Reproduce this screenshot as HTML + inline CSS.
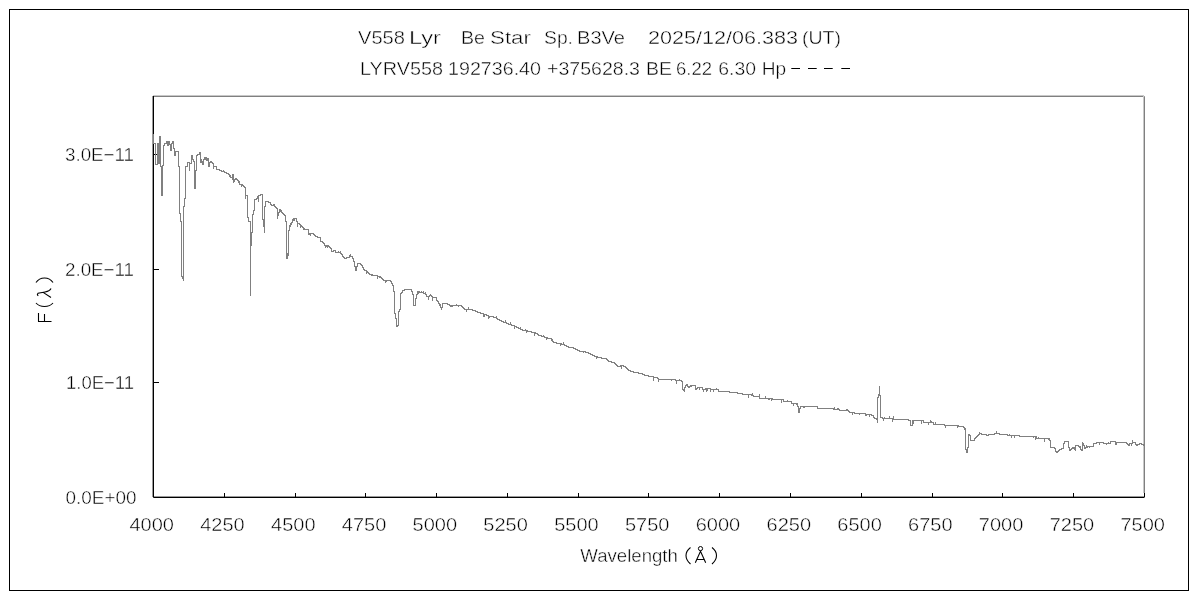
<!DOCTYPE html>
<html><head><meta charset="utf-8"><style>
html,body{margin:0;padding:0;background:#fff;}
body{width:1200px;height:600px;overflow:hidden;}
svg{display:block;will-change:transform;}
text{font-family:"Liberation Sans", sans-serif;fill:#000;stroke:#fff;stroke-width:0.45px;paint-order:fill stroke;}
</style></head><body>
<svg width="1200" height="600" viewBox="0 0 1200 600">
<rect width="1200" height="600" fill="#fff"/>
<rect x="9.5" y="9.5" width="1179" height="581" fill="none" stroke="#000" stroke-width="1"/>
<path d="M153 96.5 H1144.5 V497" fill="none" stroke="#808080" stroke-width="1"/>
<path d="M153 95.5 H1144" fill="none" stroke="#c8c8c8" stroke-width="1"/>
<path d="M1143.5 96 V493" fill="none" stroke="#c8c8c8" stroke-width="1"/>
<path d="M152.5 96 V497" fill="none" stroke="#9a9a9a" stroke-width="1"/>
<path d="M153 496.5 H1144" fill="none" stroke="#9a9a9a" stroke-width="1"/>
<path d="M153.5 96 V497.5 H1144.5" fill="none" stroke="#000" stroke-width="1"/>
<path d="M153 154.5 H159" stroke="#000" stroke-width="1"/>
<path d="M153 269.5 H159" stroke="#000" stroke-width="1"/>
<path d="M153 382.5 H159" stroke="#000" stroke-width="1"/>
<path d="M224.5 493 V497" stroke="#000" stroke-width="1"/>
<path d="M295.5 493 V497" stroke="#000" stroke-width="1"/>
<path d="M365.5 493 V497" stroke="#000" stroke-width="1"/>
<path d="M436.5 493 V497" stroke="#000" stroke-width="1"/>
<path d="M507.5 493 V497" stroke="#000" stroke-width="1"/>
<path d="M578.5 493 V497" stroke="#000" stroke-width="1"/>
<path d="M648.5 493 V497" stroke="#000" stroke-width="1"/>
<path d="M719.5 493 V497" stroke="#000" stroke-width="1"/>
<path d="M790.5 493 V497" stroke="#000" stroke-width="1"/>
<path d="M861.5 493 V497" stroke="#000" stroke-width="1"/>
<path d="M932.5 493 V497" stroke="#000" stroke-width="1"/>
<path d="M1002.5 493 V497" stroke="#000" stroke-width="1"/>
<path d="M1073.5 493 V497" stroke="#000" stroke-width="1"/>
<path d="M1144.5 493 V497" stroke="#000" stroke-width="1"/>
<path d="M153.5 133.5V143.5H155.5V146.5V164.5H157.5V143.5H158.5V163.5H159.5V139.5V136.5H160.5V166.5H161.5V176.5V195.5H162.5V173.5V165.5H163.5V145.5H164.5V143.5H166.5V141.5H167.5V145.5H168.5V141.5H169.5V144.5H170.5V150.5H171.5V143.5H172.5V141.5H173.5V148.5H174.5V155.5H175.5V151.5H178.5V166.5H179.5V200.5V213.5H180.5V221.5H181.5V276.5H182.5V278.5H183.5V280.5V206.5H184.5V198.5H185.5V166.5H187.5V162.5H188.5H189.5V170.5V163.5H191.5V155.5H192.5V159.5H193.5V161.5H194.5V177.5V188.5H195.5V170.5H196.5V165.5V155.5H197.5V154.5H199.5V152.5H200.5V159.5H201.5V161.5H202.5V164.5H203.5V159.5H204.5V157.5H206.5V160.5H207.5V158.5H208.5V166.5H209.5V162.5H210.5V161.5H211.5V162.5H212.5V163.5H213.5V164.5V166.5H216.5V169.5H219.5V170.5H221.5V171.5H224.5V172.5H226.5V173.5H228.5V174.5H229.5V176.5H230.5V177.5H232.5V174.5H233.5V181.5H234.5V179.5H235.5V178.5H236.5V179.5H237.5V180.5H238.5V181.5H239.5V184.5H242.5V185.5H243.5V186.5H244.5V187.5H245.5V188.5V195.5H247.5V217.5H248.5V221.5H250.5V223.5V295.5V245.5H251.5V232.5H252.5V214.5H253.5V210.5H254.5V199.5H256.5V198.5H257.5V197.5H258.5V201.5V195.5H260.5V194.5H262.5V195.5V219.5H263.5V226.5H264.5V232.5V206.5H265.5V201.5H268.5V202.5H270.5V204.5H271.5V205.5H273.5V204.5H274.5V206.5H275.5V207.5H276.5V208.5H277.5V215.5H278.5V212.5H279.5V209.5H280.5V210.5H281.5V212.5H282.5V213.5H283.5V214.5H284.5V215.5H285.5V221.5H286.5V224.5V258.5H287.5V255.5H288.5V253.5V230.5H289.5V226.5H290.5V225.5V224.5H291.5V222.5H292.5V219.5H293.5V218.5H296.5V221.5H297.5V223.5H299.5V224.5H300.5V225.5H301.5V226.5H302.5V227.5H303.5V229.5H308.5V234.5H309.5V233.5H313.5V234.5H314.5V235.5H315.5V236.5H317.5V237.5H320.5V238.5V241.5H322.5V242.5H323.5V243.5H324.5V245.5H325.5V246.5H326.5V245.5H328.5V246.5H329.5V247.5H330.5V248.5H331.5V251.5H333.5V250.5H335.5V252.5H340.5V253.5H341.5V254.5H342.5V256.5H343.5V257.5H344.5V258.5H346.5V257.5H349.5V256.5H352.5V258.5H353.5V261.5H354.5V266.5H355.5V270.5H356.5V266.5H357.5V263.5H360.5V264.5H361.5V265.5H362.5V267.5H363.5V269.5H364.5V270.5H366.5V271.5H367.5V272.5H368.5V273.5H369.5V274.5H371.5V275.5H377.5V276.5H380.5V277.5H381.5V278.5H382.5V279.5H383.5V280.5H390.5V281.5H391.5V283.5H392.5V285.5H393.5V286.5V291.5H394.5V313.5H395.5V318.5H396.5V326.5H397.5V325.5H398.5V324.5V311.5H399.5V309.5H400.5V308.5V293.5H401.5V292.5H402.5V290.5H404.5V289.5H411.5V291.5H412.5V294.5H413.5V305.5H415.5V298.5H416.5V294.5H417.5V291.5H419.5V292.5H423.5V293.5H425.5V294.5H426.5V296.5H429.5V295.5H431.5V296.5H432.5V297.5H436.5V300.5H437.5V301.5H438.5V303.5H439.5V304.5H440.5V307.5H442.5V303.5H447.5V304.5H449.5V305.5H450.5V306.5H451.5V305.5H461.5V306.5H462.5V307.5H463.5V308.5H464.5V309.5H472.5V310.5H475.5V311.5H477.5V312.5H480.5V313.5H483.5V314.5H486.5V315.5H488.5V316.5H493.5V317.5H496.5V318.5H497.5V319.5H499.5V320.5H501.5V321.5H503.5V322.5H506.5V323.5H508.5V324.5H511.5V325.5H514.5V326.5H516.5V327.5H518.5V328.5H520.5V329.5H522.5V330.5H527.5V331.5H531.5V332.5H535.5V333.5H537.5V334.5H538.5V335.5H541.5V336.5H544.5V337.5H547.5V338.5H551.5V339.5H552.5V341.5H553.5V342.5H556.5V343.5H561.5V344.5H564.5V345.5H566.5V346.5H568.5V347.5H573.5V348.5H575.5V349.5H577.5V350.5H579.5V351.5H585.5V352.5H588.5V353.5H590.5V354.5H592.5V355.5H594.5V356.5H597.5V357.5H601.5V358.5H606.5V359.5H607.5V360.5H608.5V361.5H611.5V362.5H614.5V363.5H615.5V364.5H616.5V365.5H617.5V366.5H620.5V365.5H623.5V366.5H625.5V367.5H626.5V368.5H627.5V369.5H628.5V370.5H630.5V371.5H633.5V372.5H638.5V373.5H642.5V374.5H644.5V375.5H648.5V376.5H653.5V377.5H657.5V378.5H658.5V379.5H675.5V380.5H681.5V381.5H682.5V382.5V389.5H683.5V390.5H684.5V391.5V387.5H685.5V385.5H686.5V384.5H687.5V386.5H688.5V387.5H689.5V386.5H691.5V385.5H695.5V389.5H696.5V388.5H697.5V387.5H702.5V389.5H703.5V391.5V389.5H705.5V388.5H710.5V389.5H718.5V391.5H729.5V392.5H737.5V393.5H742.5V394.5H752.5V395.5H753.5V396.5H759.5V398.5H772.5V399.5H783.5V401.5H791.5V403.5H797.5V406.5H798.5V410.5V412.5H799.5V408.5H800.5V406.5H803.5V407.5H804.5V406.5H817.5V408.5H833.5V409.5H839.5V410.5H848.5V411.5H849.5V412.5H854.5V413.5H865.5V415.5H866.5V414.5H871.5V415.5H873.5V417.5H874.5V418.5H876.5V419.5H877.5V420.5V397.5H878.5V394.5H879.5V385.5V395.5H880.5V417.5H882.5V418.5H893.5V419.5H908.5V420.5H910.5V425.5H912.5V420.5H923.5V422.5H933.5V424.5H944.5V425.5H958.5V426.5H963.5V427.5H964.5V428.5H965.5V429.5V449.5H966.5V452.5H967.5V447.5H968.5V445.5V434.5H969.5V435.5H970.5V440.5H974.5V438.5H975.5V437.5H976.5V436.5H977.5V435.5H978.5V434.5H979.5V433.5H980.5H981.5V434.5H986.5V435.5H988.5V434.5H994.5V433.5H999.5V434.5H1007.5V435.5H1019.5V436.5H1036.5V438.5H1049.5V440.5H1050.5V447.5H1054.5V448.5H1055.5V451.5H1056.5V452.5H1057.5V451.5H1058.5V450.5H1059.5V449.5H1061.5V448.5H1063.5V443.5H1064.5V441.5H1068.5V447.5H1069.5V450.5H1070.5V449.5H1071.5V448.5H1072.5V447.5H1074.5V449.5H1075.5V450.5V445.5H1078.5V446.5H1080.5V449.5H1081.5V450.5H1082.5V443.5H1083.5V445.5H1084.5V448.5H1085.5V447.5H1087.5V446.5H1093.5V443.5H1096.5V442.5H1103.5V443.5H1110.5V441.5H1115.5V442.5H1126.5V443.5H1127.5V444.5H1128.5V445.5H1129.5V443.5H1132.5V442.5H1135.5V444.5H1136.5V445.5H1137.5V444.5H1139.5V443.5H1141.5V444.5H1143.5V445.5H1144.5" fill="none" stroke="#808080" stroke-width="1" shape-rendering="crispEdges"/>
<path d="M197.5 154.5V153.5M199.5 152.5V151.5M200.5 159.5V162.5M201.5 161.5V162.5M202.5 164.5V163.5M205.5 159.5V156.5M207.5 158.5V160.5M213.5 166.5V168.5M214.5 166.5V165.5M223.5 171.5V169.5M230.5 177.5V174.5M232.5 176.5V179.5M233.5 181.5V182.5M238.5 181.5V182.5M241.5 184.5V186.5M245.5 195.5V198.5M256.5 198.5V199.5M257.5 197.5V195.5M262.5 195.5V198.5M271.5 205.5V203.5M277.5 215.5V218.5M280.5 210.5V211.5M287.5 255.5V252.5M288.5 229.5V231.5M289.5 226.5V224.5M290.5 224.5V222.5M293.5 218.5V220.5M294.5 218.5V220.5M297.5 223.5V226.5M300.5 225.5V227.5M304.5 229.5V227.5M310.5 233.5V235.5M320.5 239.5V241.5M325.5 246.5V247.5M327.5 245.5V247.5M332.5 251.5V250.5M338.5 252.5V250.5M340.5 253.5V250.5M342.5 256.5V254.5M349.5 256.5V254.5M350.5 256.5V253.5M355.5 270.5V268.5M356.5 266.5V265.5M360.5 264.5V262.5M366.5 271.5V273.5M372.5 275.5V273.5M377.5 276.5V278.5M379.5 276.5V277.5M385.5 280.5V282.5M386.5 280.5V281.5M416.5 294.5V295.5M418.5 291.5V293.5M419.5 292.5V290.5M421.5 292.5V290.5M423.5 293.5V290.5M425.5 294.5V291.5M428.5 296.5V299.5M430.5 295.5V293.5M432.5 297.5V300.5M438.5 303.5V301.5M439.5 305.5V303.5M441.5 307.5V309.5M452.5 305.5V306.5M456.5 305.5V303.5M458.5 305.5V306.5M463.5 308.5V306.5M466.5 309.5V311.5M468.5 309.5V306.5M472.5 310.5V309.5M483.5 314.5V316.5M484.5 314.5V316.5M488.5 316.5V318.5M489.5 316.5V317.5M496.5 318.5V315.5M505.5 322.5V319.5M508.5 324.5V323.5M510.5 324.5V321.5M514.5 326.5V328.5M520.5 329.5V326.5M525.5 330.5V328.5M526.5 330.5V332.5M530.5 331.5V330.5M532.5 332.5V331.5M534.5 332.5V335.5M543.5 336.5V334.5M546.5 337.5V339.5M551.5 339.5V340.5M560.5 343.5V345.5M563.5 344.5V341.5M583.5 351.5V352.5M596.5 356.5V358.5M604.5 358.5V357.5M621.5 365.5V368.5M638.5 373.5V371.5M648.5 376.5V374.5M653.5 377.5V380.5M658.5 379.5V381.5M671.5 379.5V380.5M676.5 380.5V383.5M679.5 380.5V378.5M688.5 387.5V385.5M690.5 386.5V384.5M695.5 389.5V387.5M699.5 387.5V389.5M706.5 388.5V391.5M707.5 388.5V390.5M710.5 389.5V391.5M713.5 389.5V391.5M716.5 389.5V387.5M737.5 393.5V392.5M748.5 394.5V397.5M751.5 394.5V395.5M752.5 395.5V392.5M759.5 396.5V393.5M765.5 398.5V395.5M768.5 398.5V399.5M769.5 398.5V399.5M771.5 398.5V400.5M779.5 399.5V398.5M781.5 399.5V402.5M787.5 401.5V399.5M793.5 403.5V405.5M796.5 403.5V404.5M803.5 406.5V407.5M834.5 409.5V406.5M837.5 409.5V407.5M838.5 409.5V407.5M846.5 410.5V408.5M847.5 410.5V408.5M848.5 411.5V409.5M852.5 412.5V414.5M859.5 413.5V414.5M869.5 414.5V416.5M877.5 420.5V422.5M878.5 394.5V395.5M883.5 418.5V420.5M884.5 418.5V416.5M889.5 418.5V415.5M892.5 418.5V421.5M893.5 418.5V415.5M912.5 420.5V421.5M913.5 420.5V423.5M921.5 420.5V423.5M928.5 422.5V424.5M930.5 422.5V419.5M931.5 422.5V420.5M935.5 424.5V421.5M936.5 424.5V423.5M945.5 425.5V427.5M957.5 425.5V427.5M964.5 428.5V429.5M979.5 433.5V431.5M996.5 433.5V430.5M998.5 433.5V432.5M1009.5 435.5V433.5M1011.5 435.5V437.5M1014.5 435.5V437.5M1019.5 436.5V435.5M1022.5 436.5V435.5M1033.5 436.5V437.5M1035.5 436.5V439.5M1036.5 438.5V435.5M1038.5 438.5V436.5M1044.5 438.5V441.5M1048.5 439.5V438.5M1073.5 448.5V446.5M1074.5 449.5V448.5M1079.5 447.5V445.5M1082.5 443.5V441.5M1086.5 447.5V444.5M1089.5 446.5V447.5M1099.5 442.5V444.5M1106.5 443.5V444.5M1108.5 443.5V441.5M1115.5 442.5V444.5M1116.5 442.5V444.5M1131.5 443.5V445.5M1132.5 442.5V439.5" fill="none" stroke="#808080" stroke-width="1" shape-rendering="crispEdges"/>
<rect x="791.3" y="68" width="8.700000000000045" height="1" fill="#000"/>
<rect x="808" y="68" width="8.700000000000045" height="1" fill="#000"/>
<rect x="824" y="68" width="8.700000000000045" height="1" fill="#000"/>
<rect x="841.3" y="68" width="8.700000000000045" height="1" fill="#000"/>
<path d="M695.3 562.8 L700.5 551.3 L705.7 562.8 M696.8 559.5 H704.2" fill="none" stroke="#000" stroke-width="1.1"/><circle cx="700.5" cy="548.6" r="2.1" fill="none" stroke="#000" stroke-width="1"/>
<path d="M690.5 547.5 Q686 551 686 555.5 Q686 560 690.5 564 M712 547.5 Q716.5 551 716.5 555.5 Q716.5 560 712 564" fill="none" stroke="#000" stroke-width="1.1"/>
<path d="M38 321.5 H51.5 M38.5 313 V321.5 M44.5 314 V321.5 M36 303 Q39 306.5 44.5 306.5 Q50 306.5 53 303 M36 282.5 Q39 278 44.5 278 Q50 278 53 282.5 M51 288.5 Q50 291 45 292 L38 293.3 Q36.6 294.8 38.3 295.8 M43.5 292.6 L51 297.5" fill="none" stroke="#000" stroke-width="1.1"/>
<text x="358" y="44" font-size="19" text-anchor="start" textLength="47.0" lengthAdjust="spacingAndGlyphs">V558</text>
<text x="409.0" y="44" font-size="19" text-anchor="start" textLength="32.0" lengthAdjust="spacingAndGlyphs">Lyr</text>
<text x="461" y="44" font-size="19" text-anchor="start" textLength="24" lengthAdjust="spacingAndGlyphs">Be</text>
<text x="490.0" y="44" font-size="19" text-anchor="start" textLength="41.0" lengthAdjust="spacingAndGlyphs">Star</text>
<text x="544.0" y="44" font-size="19" text-anchor="start" textLength="29.0" lengthAdjust="spacingAndGlyphs">Sp.</text>
<text x="577" y="44" font-size="19" text-anchor="start" textLength="48" lengthAdjust="spacingAndGlyphs">B3Ve</text>
<text x="648" y="44" font-size="19" text-anchor="start" textLength="150.0" lengthAdjust="spacingAndGlyphs">2025/12/06.383</text>
<text x="802.0" y="44" font-size="19" text-anchor="start" textLength="39.0" lengthAdjust="spacingAndGlyphs">(UT)</text>
<text x="360.0" y="75" font-size="19" text-anchor="start" textLength="83.0" lengthAdjust="spacingAndGlyphs">LYRV558</text>
<text x="448" y="75" font-size="19" text-anchor="start" textLength="93" lengthAdjust="spacingAndGlyphs">192736.40</text>
<text x="547" y="75" font-size="19" text-anchor="start" textLength="93" lengthAdjust="spacingAndGlyphs">+375628.3</text>
<text x="646" y="75" font-size="19" text-anchor="start" textLength="26" lengthAdjust="spacingAndGlyphs">BE</text>
<text x="676" y="75" font-size="19" text-anchor="start" textLength="36" lengthAdjust="spacingAndGlyphs">6.22</text>
<text x="718.3" y="75" font-size="19" text-anchor="start" textLength="37.700000000000045" lengthAdjust="spacingAndGlyphs">6.30</text>
<text x="761.8" y="75" font-size="19" text-anchor="start" textLength="24.40000000000009" lengthAdjust="spacingAndGlyphs">Hp</text>
<text x="134" y="160.5" font-size="19" text-anchor="end" textLength="69" lengthAdjust="spacingAndGlyphs">3.0E−11</text>
<text x="134" y="275.5" font-size="19" text-anchor="end" textLength="69" lengthAdjust="spacingAndGlyphs">2.0E−11</text>
<text x="134" y="388.5" font-size="19" text-anchor="end" textLength="68" lengthAdjust="spacingAndGlyphs">1.0E−11</text>
<text x="136.5" y="503.5" font-size="19" text-anchor="end" textLength="71" lengthAdjust="spacingAndGlyphs">0.0E+00</text>
<text x="151.7" y="531" font-size="19" text-anchor="middle" textLength="44.5" lengthAdjust="spacingAndGlyphs">4000</text>
<text x="222.5" y="531" font-size="19" text-anchor="middle" textLength="44.5" lengthAdjust="spacingAndGlyphs">4250</text>
<text x="293.3" y="531" font-size="19" text-anchor="middle" textLength="44.5" lengthAdjust="spacingAndGlyphs">4500</text>
<text x="364.1" y="531" font-size="19" text-anchor="middle" textLength="44.5" lengthAdjust="spacingAndGlyphs">4750</text>
<text x="434.8" y="531" font-size="19" text-anchor="middle" textLength="44.5" lengthAdjust="spacingAndGlyphs">5000</text>
<text x="505.6" y="531" font-size="19" text-anchor="middle" textLength="44.5" lengthAdjust="spacingAndGlyphs">5250</text>
<text x="576.4" y="531" font-size="19" text-anchor="middle" textLength="44.5" lengthAdjust="spacingAndGlyphs">5500</text>
<text x="647.2" y="531" font-size="19" text-anchor="middle" textLength="44.5" lengthAdjust="spacingAndGlyphs">5750</text>
<text x="718.0" y="531" font-size="19" text-anchor="middle" textLength="44.5" lengthAdjust="spacingAndGlyphs">6000</text>
<text x="788.8" y="531" font-size="19" text-anchor="middle" textLength="44.5" lengthAdjust="spacingAndGlyphs">6250</text>
<text x="859.6" y="531" font-size="19" text-anchor="middle" textLength="44.5" lengthAdjust="spacingAndGlyphs">6500</text>
<text x="930.3" y="531" font-size="19" text-anchor="middle" textLength="44.5" lengthAdjust="spacingAndGlyphs">6750</text>
<text x="1001.1" y="531" font-size="19" text-anchor="middle" textLength="44.5" lengthAdjust="spacingAndGlyphs">7000</text>
<text x="1071.9" y="531" font-size="19" text-anchor="middle" textLength="44.5" lengthAdjust="spacingAndGlyphs">7250</text>
<text x="1142.7" y="531" font-size="19" text-anchor="middle" textLength="44.5" lengthAdjust="spacingAndGlyphs">7500</text>
<text x="580.3" y="562" font-size="19" text-anchor="start" textLength="97.6" lengthAdjust="spacingAndGlyphs">Wavelength</text>
</svg>
</body></html>
